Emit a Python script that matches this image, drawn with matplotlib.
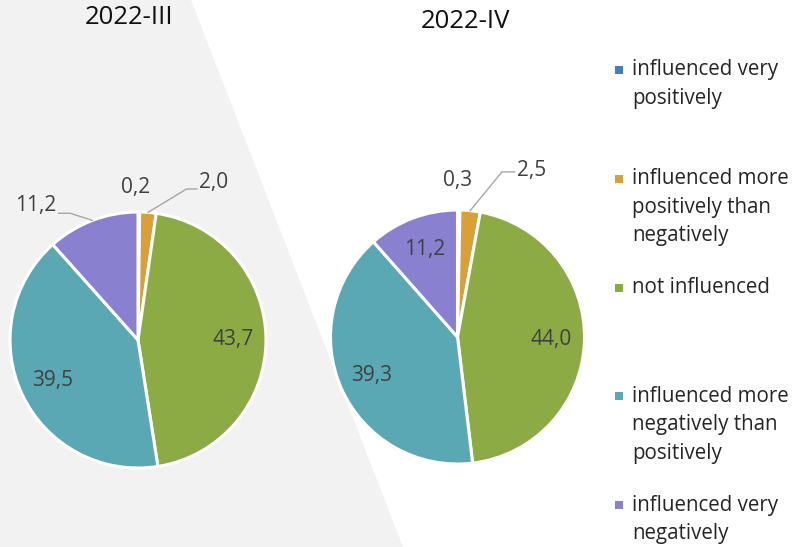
import numpy as np
import matplotlib
matplotlib.use("Agg")
import matplotlib.pyplot as plt
from matplotlib.patches import Polygon, Rectangle

plt.rcParams['font.family'] = ['Open Sans', 'DejaVu Sans']

categories = ['influenced very\npositively',
              'influenced more\npositively than\nnegatively',
              'not influenced',
              'influenced more\nnegatively than\npositively',
              'influenced very\nnegatively']
colors = ['#3f7fbf', '#d9a03a', '#8cab44', '#5ba8b5', '#8a80d0']

periods = ['2022-III', '2022-IV']
values_2022_3 = [0.2, 2.0, 43.7, 39.5, 11.2]
values_2022_4 = [0.3, 2.5, 44.0, 39.3, 11.2]

W, H = 794, 547
fig = plt.figure(figsize=(W / 100, H / 100), dpi=100)
fig.patch.set_facecolor('white')

# grey background band
band = Polygon([(0, 1), (191 / W, 1), (403 / W, 0), (0, 0)], closed=True,
               transform=fig.transFigure, facecolor='#f2f2f2', edgecolor='none', zorder=0)
fig.add_artist(band)

lab_col = '#404040'
line_col = '#a6a6a6'


def pie_axes(cx, cy, r):
    ax = fig.add_axes([(cx - r) / W, (H - cy - r) / H, 2 * r / W, 2 * r / H])
    ax.patch.set_visible(False)
    return ax


def fmt(v):
    return f"{v:.1f}".replace('.', ',')


def draw_pie(ax, vals, outside):
    wedges, _ = ax.pie(vals, colors=colors, startangle=90, counterclock=False,
                       radius=1, wedgeprops=dict(edgecolor='white', linewidth=2.2))
    ax.set_xlim(-1, 1)
    ax.set_ylim(-1, 1)
    ax.set_aspect('equal')
    ax.axis('off')
    for i, (w, v) in enumerate(zip(wedges, vals)):
        ang = np.deg2rad((w.theta1 + w.theta2) / 2)
        if i in outside:
            tx, ty, ha, leader = outside[i]
            if leader is not None:
                px, py = np.cos(ang), np.sin(ang)
                xs = [px] + [p[0] for p in leader]
                ys = [py] + [p[1] for p in leader]
                ax.plot(xs, ys, color=line_col, lw=1, clip_on=False)
            ax.text(tx, ty, fmt(v), ha=ha, va='center', fontsize=15, color=lab_col)
        else:
            ax.text(0.74 * np.cos(ang), 0.74 * np.sin(ang), fmt(v), ha='center',
                    va='center', fontsize=15, color=lab_col)


ax1 = pie_axes(138, 340, 128)
draw_pie(ax1, values_2022_3, {
    0: (-0.02, 1.19, 'center', None),
    1: (0.48, 1.23, 'left', [(0.38, 1.18), (0.46, 1.18)]),
    4: (-0.64, 1.05, 'right', [(-0.53, 0.99), (-0.62, 0.99)]),
})

ax2 = pie_axes(457.5, 337, 127)
draw_pie(ax2, values_2022_4, {
    0: (0.0, 1.23, 'center', None),
    1: (0.47, 1.31, 'left', [(0.35, 1.30), (0.45, 1.30)]),
})

fig.text(129 / W, 1 - 18 / H, periods[0], ha='center', va='center', fontsize=18.5, color='#111111')
fig.text(466 / W, 1 - 22 / H, periods[1], ha='center', va='center', fontsize=18.5, color='#111111')

# legend
top = 70
step = 108.8
lh = 28.5
for i, (lab, c) in enumerate(zip(categories, colors)):
    y0 = top + i * step
    fig.add_artist(Rectangle(((615) / W, 1 - (y0 + 4) / H), 8 / W, 8 / H,
                             transform=fig.transFigure, facecolor=c, edgecolor='none'))
    for k, line in enumerate(lab.split('\n')):
        fig.text(632 / W, 1 - (y0 + k * lh) / H, line, ha='left', va='center',
                 fontsize=14.8, color='#262626')

fig.savefig('out.png', dpi=100)
